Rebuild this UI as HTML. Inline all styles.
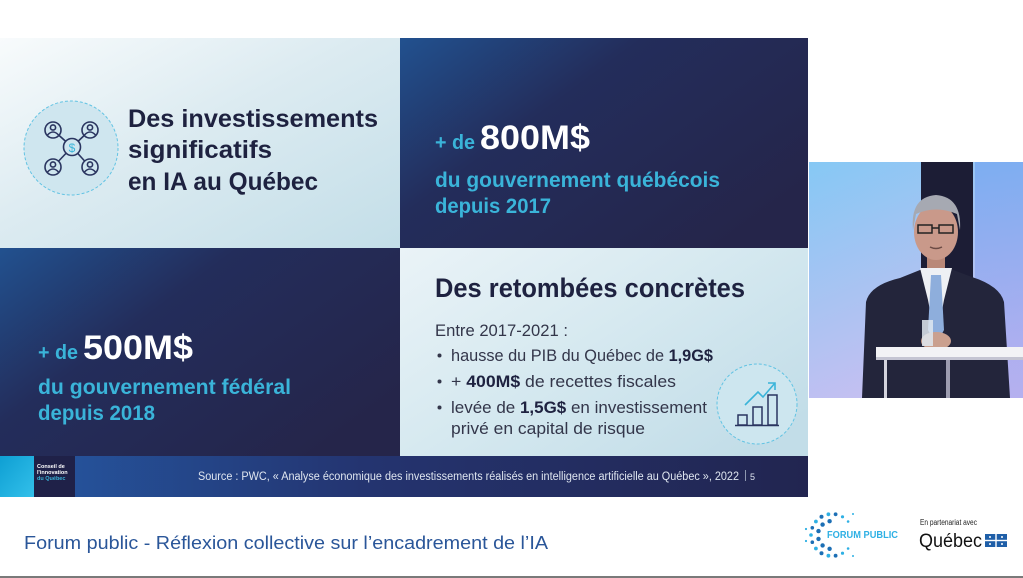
<!DOCTYPE html>
<html><head><meta charset="utf-8"><style>
html,body{margin:0;padding:0;background:#fff;width:1023px;height:578px;overflow:hidden}
svg{display:block}
text{font-family:"Liberation Sans",sans-serif}
</style></head><body>
<svg width="1023" height="578" viewBox="0 0 1023 578" xmlns="http://www.w3.org/2000/svg">
<defs>
<linearGradient id="lt" x1="0" y1="0" x2="1" y2="1">
<stop offset="0" stop-color="#f8fbfc"/><stop offset="0.45" stop-color="#dcebf1"/><stop offset="1" stop-color="#c3dee8"/>
</linearGradient>
<linearGradient id="lt2" x1="0" y1="0" x2="1" y2="0.8">
<stop offset="0" stop-color="#eaf3f7"/><stop offset="0.5" stop-color="#d6e9f0"/><stop offset="1" stop-color="#c2dde8"/>
</linearGradient>
<linearGradient id="dk" x1="0" y1="0" x2="1" y2="0.7">
<stop offset="0" stop-color="#22518f"/><stop offset="0.4" stop-color="#232d5b"/><stop offset="1" stop-color="#25254a"/>
</linearGradient>
<linearGradient id="bar" x1="0" y1="0" x2="1" y2="0">
<stop offset="0" stop-color="#2559a4"/><stop offset="0.45" stop-color="#243470"/><stop offset="1" stop-color="#222550"/>
</linearGradient>
<linearGradient id="cy" x1="0" y1="0" x2="1" y2="1">
<stop offset="0" stop-color="#0e9fd3"/><stop offset="1" stop-color="#33c0ea"/>
</linearGradient>
<linearGradient id="vid" x1="0" y1="0" x2="0.4" y2="1">
<stop offset="0" stop-color="#86c8f4"/><stop offset="1" stop-color="#c7bff1"/>
</linearGradient>
<linearGradient id="vidr" x1="0" y1="0" x2="0" y2="1">
<stop offset="0" stop-color="#6b9ef0"/><stop offset="1" stop-color="#a9a6ee"/>
</linearGradient>
</defs>

<!-- slide panels -->
<rect x="0" y="38" width="400" height="210" fill="url(#lt)"/>
<rect x="400" y="38" width="408" height="210" fill="url(#dk)"/>
<rect x="0" y="248" width="400" height="208" fill="url(#dk)"/>
<rect x="400" y="248" width="408" height="208" fill="url(#lt2)"/>
<rect x="0" y="456" width="808" height="41" fill="url(#bar)"/>
<rect x="0" y="456" width="34" height="41" fill="url(#cy)"/>
<rect x="34" y="456" width="41" height="41" fill="#1f2148"/>

<!-- icon people -->
<circle cx="71" cy="148" r="47" fill="#cfe6ef" stroke="#62c3e3" stroke-width="1" stroke-dasharray="3 2"/>
<g stroke="#2a3560" stroke-width="1.6" fill="none">
<line x1="72" y1="147" x2="53" y2="130"/><line x1="72" y1="147" x2="90" y2="130"/>
<line x1="72" y1="147" x2="53" y2="167"/><line x1="72" y1="147" x2="90" y2="167"/>
<circle cx="53" cy="130" r="8" fill="#cfe6ef"/><circle cx="90" cy="130" r="8" fill="#cfe6ef"/>
<circle cx="53" cy="167" r="8" fill="#cfe6ef"/><circle cx="90" cy="167" r="8" fill="#cfe6ef"/>
<circle cx="72" cy="147" r="8.5" fill="#cfe6ef"/>
<circle cx="53" cy="127.5" r="2.6"/><path d="M47.5,135 Q53,129 58.5,135"/>
<circle cx="90" cy="127.5" r="2.6"/><path d="M84.5,135 Q90,129 95.5,135"/>
<circle cx="53" cy="164.5" r="2.6"/><path d="M47.5,172 Q53,166 58.5,172"/>
<circle cx="90" cy="164.5" r="2.6"/><path d="M84.5,172 Q90,166 95.5,172"/>
</g>
<text x="72" y="152" font-size="12" fill="#3ab4d9" text-anchor="middle">$</text>

<!-- titles -->
<text x="128" y="127" font-size="25" font-weight="bold" fill="#1e2240" textLength="250" lengthAdjust="spacingAndGlyphs">Des investissements</text>
<text x="128" y="158" font-size="25" font-weight="bold" fill="#1e2240" textLength="144" lengthAdjust="spacingAndGlyphs">significatifs</text>
<text x="128" y="190" font-size="25" font-weight="bold" fill="#1e2240" textLength="190" lengthAdjust="spacingAndGlyphs">en IA au Québec</text>

<text x="435" y="149" font-size="20" font-weight="bold" fill="#3ab4d9" textLength="40" lengthAdjust="spacingAndGlyphs">+ de</text>
<text x="480" y="149" font-size="34" font-weight="bold" fill="#ffffff" textLength="110" lengthAdjust="spacingAndGlyphs">800M$</text>
<text x="435" y="187" font-size="21" font-weight="bold" fill="#3ab4d9" textLength="285" lengthAdjust="spacingAndGlyphs">du gouvernement québécois</text>
<text x="435" y="213" font-size="21" font-weight="bold" fill="#3ab4d9" textLength="116" lengthAdjust="spacingAndGlyphs">depuis 2017</text>

<text x="38" y="359" font-size="20" font-weight="bold" fill="#3ab4d9" textLength="40" lengthAdjust="spacingAndGlyphs">+ de</text>
<text x="83" y="359" font-size="34" font-weight="bold" fill="#ffffff" textLength="110" lengthAdjust="spacingAndGlyphs">500M$</text>
<text x="38" y="394" font-size="21" font-weight="bold" fill="#3ab4d9" textLength="253" lengthAdjust="spacingAndGlyphs">du gouvernement fédéral</text>
<text x="38" y="420" font-size="21" font-weight="bold" fill="#3ab4d9" textLength="117" lengthAdjust="spacingAndGlyphs">depuis 2018</text>

<text x="435" y="297" font-size="27" font-weight="bold" fill="#1e2240" textLength="310" lengthAdjust="spacingAndGlyphs">Des retombées concrètes</text>
<text x="435" y="336" font-size="17" fill="#33364a" textLength="133" lengthAdjust="spacingAndGlyphs">Entre 2017-2021 :</text>
<g fill="#33364a">
<circle cx="439.5" cy="355.5" r="2"/><circle cx="439.5" cy="381.5" r="2"/><circle cx="439.5" cy="407.5" r="2"/>
</g>
<text x="451" y="361" font-size="17" fill="#33364a" textLength="262" lengthAdjust="spacingAndGlyphs">hausse du PIB du Québec de <tspan font-weight="bold" fill="#1e2240">1,9G$</tspan></text>
<text x="451" y="387" font-size="17" fill="#33364a" textLength="225" lengthAdjust="spacingAndGlyphs">+ <tspan font-weight="bold" fill="#1e2240">400M$</tspan> de recettes fiscales</text>
<text x="451" y="413" font-size="17" fill="#33364a" textLength="256" lengthAdjust="spacingAndGlyphs">levée de <tspan font-weight="bold" fill="#1e2240">1,5G$</tspan> en investissement</text>
<text x="451" y="434" font-size="17" fill="#33364a" textLength="194" lengthAdjust="spacingAndGlyphs">privé en capital de risque</text>

<!-- chart icon -->
<circle cx="757" cy="404" r="40" fill="#cde6ef" stroke="#62c3e3" stroke-width="1" stroke-dasharray="3 2"/>
<g stroke="#2a3560" stroke-width="1.5" fill="none">
<rect x="738" y="415" width="9" height="10"/><rect x="753" y="407" width="9" height="18"/><rect x="768" y="395" width="9" height="30"/>
<line x1="735" y1="425.5" x2="779" y2="425.5"/>
</g>
<polyline points="745,405 758,392 763,397 775,383" fill="none" stroke="#3ab4d9" stroke-width="1.6"/>
<polyline points="768,383 775,383 775,390" fill="none" stroke="#3ab4d9" stroke-width="1.6"/>

<!-- bottom bar text -->
<text x="37" y="468" font-size="5.5" font-weight="bold" fill="#ffffff">Conseil de</text>
<text x="37" y="474" font-size="5.5" font-weight="bold" fill="#ffffff">l'innovation</text>
<text x="37" y="480" font-size="5.5" font-weight="bold" fill="#3ab4d9">du Québec</text>
<text x="198" y="480" font-size="11.5" fill="#dfe6f0" textLength="541" lengthAdjust="spacingAndGlyphs">Source : PWC, « Analyse économique des investissements réalisés en intelligence artificielle au Québec », 2022</text>
<rect x="745" y="470" width="0.8" height="11" fill="#aab4c8"/>
<text x="750" y="480" font-size="9" fill="#dfe6f0">5</text>

<!-- video -->
<rect x="809" y="162" width="214" height="236" fill="url(#vid)"/>
<rect x="975" y="162" width="48" height="236" fill="url(#vidr)" opacity="0.6"/>
<rect x="921" y="162" width="52" height="118" fill="#1c1d35"/>
<path d="M862,398 L866,302 Q870,285 900,278 L925,268 L948,268 L972,277 Q1000,286 1004,302 L1010,398 Z" fill="#23253b"/>
<rect x="927" y="250" width="18" height="22" fill="#b98878"/>
<path d="M920,268 L952,268 L944,300 L936,342 L928,300 Z" fill="#eef0f4"/>
<path d="M931,275 L941,275 L944,330 L936,345 L928,330 Z" fill="#8eaedc"/>
<ellipse cx="936" cy="232" rx="22" ry="28" fill="#c9998a"/>
<path d="M913,230 Q910,197 936,195 Q962,197 960,230 L957,214 Q936,205 916,214 Z" fill="#a6a9b2"/>
<g stroke="#222" stroke-width="1.5" fill="none"><rect x="918" y="225" width="14" height="8"/><rect x="939" y="225" width="14" height="8"/><line x1="932" y1="228" x2="939" y2="228"/></g>
<path d="M930,247 Q936,250 942,247" stroke="#6b4a44" stroke-width="1.5" fill="none"/>
<ellipse cx="936" cy="341" rx="15" ry="9" fill="#caa08f"/>
<rect x="922" y="320" width="11" height="26" fill="#dfe8f0" opacity="0.85"/>
<rect x="876" y="347" width="147" height="10" fill="#f2f2f5"/>
<rect x="876" y="357" width="147" height="3" fill="#c4c4d2"/>
<rect x="884" y="360" width="3" height="38" fill="#d4d4de"/>
<rect x="946" y="360" width="4" height="38" fill="#9d9db0"/>

<!-- footer -->
<text x="24" y="549" font-size="18" fill="#2a5699" textLength="524" lengthAdjust="spacingAndGlyphs">Forum public - Réflexion collective sur l’encadrement de l’IA</text>
<g>
<circle cx="848.1" cy="548.5" r="1.3" fill="#2eb0e4"/><circle cx="842.5" cy="553.2" r="1.6" fill="#2eb0e4"/>
<circle cx="835.6" cy="555.7" r="1.9" fill="#1c6fb5"/><circle cx="828.4" cy="555.7" r="1.9" fill="#2eb0e4"/>
<circle cx="821.5" cy="553.2" r="2" fill="#1c6fb5"/><circle cx="815.9" cy="548.5" r="1.9" fill="#2eb0e4"/>
<circle cx="812.3" cy="542.2" r="1.8" fill="#1c6fb5"/><circle cx="811" cy="535" r="1.8" fill="#2eb0e4"/>
<circle cx="812.3" cy="527.8" r="1.8" fill="#1c6fb5"/><circle cx="815.9" cy="521.5" r="1.9" fill="#2eb0e4"/>
<circle cx="821.5" cy="516.8" r="2" fill="#1c6fb5"/><circle cx="828.4" cy="514.3" r="1.9" fill="#2eb0e4"/>
<circle cx="835.6" cy="514.3" r="1.9" fill="#1c6fb5"/><circle cx="842.5" cy="516.8" r="1.6" fill="#2eb0e4"/>
<circle cx="848.1" cy="521.5" r="1.3" fill="#2eb0e4"/>
<circle cx="829.6" cy="548.8" r="2.2" fill="#1c6fb5"/><circle cx="822.6" cy="545.4" r="2.2" fill="#1c6fb5"/>
<circle cx="818.5" cy="538.9" r="2.2" fill="#1c6fb5"/><circle cx="818.5" cy="531.1" r="2.2" fill="#1c6fb5"/>
<circle cx="822.6" cy="524.6" r="2.2" fill="#1c6fb5"/><circle cx="829.6" cy="521.2" r="2.2" fill="#1c6fb5"/>
<circle cx="806" cy="541" r="1.1" fill="#2eb0e4"/><circle cx="806" cy="529" r="1.1" fill="#2eb0e4"/>
<circle cx="853" cy="556" r="1" fill="#2eb0e4"/><circle cx="853" cy="514" r="1" fill="#2eb0e4"/>
</g>
<text x="827" y="538" font-size="10" font-weight="bold" fill="#2eb0e4" textLength="71" lengthAdjust="spacingAndGlyphs">FORUM PUBLIC</text>
<text x="920" y="525" font-size="8" fill="#222" textLength="57" lengthAdjust="spacingAndGlyphs">En partenariat avec</text>
<text x="919" y="547" font-size="19" font-family="Liberation Serif, serif" fill="#111" textLength="63" lengthAdjust="spacingAndGlyphs">Québec</text>
<rect x="985" y="534" width="22" height="13" fill="#1f5fa8"/>
<rect x="995.3" y="534" width="1.4" height="13" fill="#fff"/>
<rect x="985" y="539.8" width="22" height="1.4" fill="#fff"/>
<g fill="#fff"><circle cx="990" cy="537" r="1"/><circle cx="1002" cy="537" r="1"/><circle cx="990" cy="544" r="1"/><circle cx="1002" cy="544" r="1"/></g>
<rect x="0" y="576" width="1023" height="2" fill="#7a7a7a"/>
</svg>
</body></html>
